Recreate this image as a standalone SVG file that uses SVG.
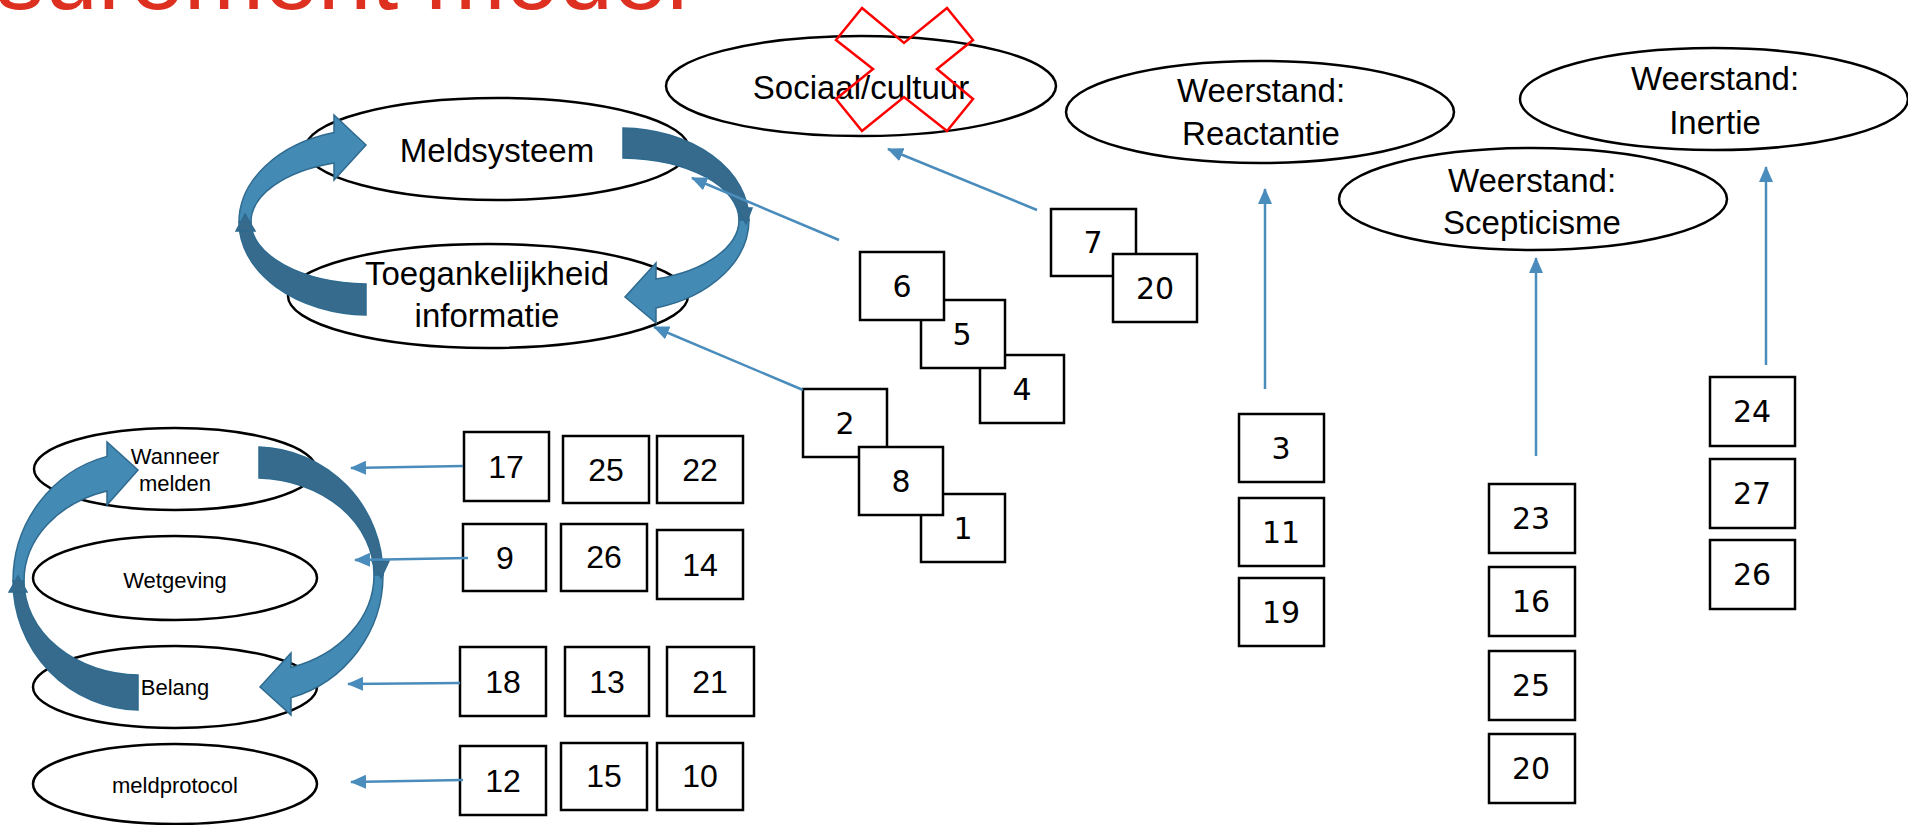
<svg xmlns="http://www.w3.org/2000/svg" width="1908" height="825" viewBox="0 0 1908 825">
  <defs>
    <style>
      .ell{fill:#fff;stroke:#000;stroke-width:2.5}
      .lbl{font-family:"Liberation Sans",Arial,sans-serif;font-size:33px;fill:#000;text-anchor:middle;dominant-baseline:central}
      .sm{font-size:22px}
      .box{fill:#fff;stroke:#000;stroke-width:2.5}
      .numA{font-family:"Liberation Sans",Arial,sans-serif;font-size:32px;fill:#000;text-anchor:middle;dominant-baseline:central}
      .numB{font-family:"DejaVu Sans",Verdana,sans-serif;font-size:30px;fill:#000;text-anchor:middle;dominant-baseline:central}
      .con{stroke:#4A8CBB;stroke-width:2.5;fill:none;marker-end:url(#ah)}
      .lt{fill:#438AB5;stroke:#2F6A8F;stroke-width:1.5}
      .dk{fill:#366B8D;stroke:#2F6A8F;stroke-width:1.5}
      .title{font-family:"Liberation Sans",Arial,sans-serif;font-size:96px;fill:#DD3020}
    </style>
    <marker id="ah" markerWidth="16" markerHeight="14" refX="15" refY="7" orient="auto" markerUnits="userSpaceOnUse">
      <path d="M0,0 L16,7 L0,14 Z" fill="#4A8CBB"/>
    </marker>
  </defs>

  <rect width="1908" height="825" fill="#fff"/>

  <!-- slide title, cropped at the top edge -->
  <text class="title" x="-4" y="9" textLength="692" lengthAdjust="spacingAndGlyphs">surement model</text>

  <!-- upper cluster -->
  <g id="sociaal">
    <ellipse class="ell" cx="861" cy="86" rx="195" ry="50"/>
    <text class="lbl" x="861" y="87">Sociaal/cultuur</text>
    <polygon points="862,8 904,43 947,8 973,40 937,69 973,99 947,131 904,97 862,131 836,99 873,69 836,40" fill="none" stroke="#FF0000" stroke-width="2.5"/>
  </g>
  <g id="reactantie">
    <ellipse class="ell" cx="1260" cy="112" rx="194" ry="51"/>
    <text class="lbl" x="1261" y="90">Weerstand:</text>
    <text class="lbl" x="1261" y="133">Reactantie</text>
  </g>
  <g id="inertie">
    <ellipse class="ell" cx="1714" cy="99" rx="194" ry="51"/>
    <text class="lbl" x="1715" y="78">Weerstand:</text>
    <text class="lbl" x="1715" y="122">Inertie</text>
  </g>
  <g id="scepticisme">
    <ellipse class="ell" cx="1533" cy="199" rx="194" ry="51"/>
    <text class="lbl" x="1532" y="180">Weerstand:</text>
    <text class="lbl" x="1532" y="222">Scepticisme</text>
  </g>
  <g id="meldsysteem">
    <ellipse class="ell" cx="497" cy="149" rx="192" ry="51"/>
    <text class="lbl" x="497" y="150">Meldsysteem</text>
  </g>
  <g id="toegankelijkheid">
    <ellipse class="ell" cx="488" cy="296" rx="200" ry="52"/>
    <text class="lbl" x="487" y="273">Toegankelijkheid</text>
    <text class="lbl" x="487" y="315">informatie</text>
  </g>

  <!-- cycle arrows round the upper pair -->
  <g id="cycle-upper">
    <path class="dk" d="M239,222 A131,93 0 0 0 366,315 L366,284 A119,62 0 0 1 251,222 Z"/>
    <path class="lt" d="M239,222 A131,93 0 0 1 334,132.6 L334,115 L366,145 L334,180 L334,163 A119,62 0 0 0 251,222 Z"/>
    <path class="dk" d="M623,128 A129,92 0 0 1 749,220 L739,220 A119,62 0 0 0 623,158 Z"/>
    <path class="lt" d="M749,220 A129,92 0 0 1 656,308 L656,323 L625,297 L656,263 L656,279 A119,62 0 0 0 739,220 Z"/>
    <path class="dk" d="M236,231 L245,214 L255,231 Z"/>
    <path class="dk" d="M738,208 L752,208 L746,224 Z"/>
  </g>

  <!-- lower cluster -->
  <g id="wanneer">
    <ellipse class="ell" cx="175" cy="469" rx="141" ry="41"/>
    <text class="lbl sm" x="175" y="456">Wanneer</text>
    <text class="lbl sm" x="175" y="483">melden</text>
  </g>
  <g id="wetgeving">
    <ellipse class="ell" cx="175" cy="578" rx="142" ry="42"/>
    <text class="lbl sm" x="175" y="580">Wetgeving</text>
  </g>
  <g id="belang">
    <ellipse class="ell" cx="175" cy="687" rx="142" ry="41"/>
    <text class="lbl sm" x="175" y="687">Belang</text>
  </g>
  <g id="meldprotocol">
    <ellipse class="ell" cx="175" cy="784" rx="142" ry="40"/>
    <text class="lbl sm" x="175" y="785">meldprotocol</text>
  </g>

  <g id="cycle-lower">
    <path class="dk" d="M13,581 A127,129 0 0 0 138,710 L138,675 A116,94 0 0 1 24,581 Z"/>
    <path class="lt" d="M13,581 A127,129 0 0 1 107,456.4 L107,442 L138,470 L107,505 L107,490.9 A116,94 0 0 0 24,581 Z"/>
    <path class="dk" d="M259,447 A128,128 0 0 1 383,575 L374,575 A119,97 0 0 0 259,478 Z"/>
    <path class="lt" d="M383,575 A128,128 0 0 1 291,697.8 L291,715 L260,687 L291,653 L291,667.5 A119,97 0 0 0 374,575 Z"/>
    <path class="dk" d="M9,592 L18,576 L27,592 Z"/>
    <path class="dk" d="M372,561 L389,561 L381,578 Z"/>
  </g>

  <!-- item boxes, lower cluster -->
  <g id="b17"><rect class="box" x="464" y="432" width="85" height="69"/><text class="numA" x="506" y="467">17</text></g>
  <g id="b25a"><rect class="box" x="563" y="436" width="86" height="67"/><text class="numA" x="606" y="470">25</text></g>
  <g id="b22"><rect class="box" x="657" y="436" width="86" height="67"/><text class="numA" x="700" y="470">22</text></g>
  <g id="b9"><rect class="box" x="463" y="524" width="83" height="67"/><text class="numA" x="505" y="558">9</text></g>
  <g id="b26a"><rect class="box" x="561" y="524" width="86" height="67"/><text class="numA" x="604" y="557">26</text></g>
  <g id="b14"><rect class="box" x="657" y="530" width="86" height="69"/><text class="numA" x="700" y="565">14</text></g>
  <g id="b18"><rect class="box" x="460" y="647" width="86" height="69"/><text class="numA" x="503" y="682">18</text></g>
  <g id="b13"><rect class="box" x="565" y="647" width="84" height="69"/><text class="numA" x="607" y="682">13</text></g>
  <g id="b21"><rect class="box" x="667" y="647" width="87" height="69"/><text class="numA" x="710" y="682">21</text></g>
  <g id="b12"><rect class="box" x="460" y="746" width="86" height="69"/><text class="numA" x="503" y="781">12</text></g>
  <g id="b15"><rect class="box" x="561" y="743" width="86" height="67"/><text class="numA" x="604" y="776">15</text></g>
  <g id="b10"><rect class="box" x="657" y="743" width="86" height="67"/><text class="numA" x="700" y="776">10</text></g>

  <!-- item boxes, middle stacks (later ones drawn underneath) -->
  <g id="b4"><rect class="box" x="980" y="355" width="84" height="68"/><text class="numB" x="1022" y="389">4</text></g>
  <g id="b5"><rect class="box" x="921" y="300" width="84" height="68"/><text class="numB" x="962" y="334">5</text></g>
  <g id="b6"><rect class="box" x="860" y="252" width="84" height="68"/><text class="numB" x="902" y="286">6</text></g>
  <g id="b7"><rect class="box" x="1051" y="209" width="85" height="67"/><text class="numB" x="1093" y="242">7</text></g>
  <g id="b20a"><rect class="box" x="1113" y="254" width="84" height="68"/><text class="numB" x="1155" y="288">20</text></g>
  <g id="b2"><rect class="box" x="803" y="389" width="84" height="68"/><text class="numB" x="845" y="423">2</text></g>
  <g id="b1"><rect class="box" x="921" y="494" width="84" height="68"/><text class="numB" x="963" y="528">1</text></g>
  <g id="b8"><rect class="box" x="859" y="447" width="84" height="68"/><text class="numB" x="901" y="481">8</text></g>

  <!-- item boxes, right columns -->
  <g id="b3"><rect class="box" x="1239" y="414" width="85" height="68"/><text class="numB" x="1281" y="448">3</text></g>
  <g id="b11"><rect class="box" x="1239" y="498" width="85" height="68"/><text class="numB" x="1281" y="532">11</text></g>
  <g id="b19"><rect class="box" x="1239" y="578" width="85" height="68"/><text class="numB" x="1281" y="612">19</text></g>
  <g id="b23"><rect class="box" x="1489" y="484" width="86" height="69"/><text class="numB" x="1531" y="518">23</text></g>
  <g id="b16"><rect class="box" x="1489" y="567" width="86" height="69"/><text class="numB" x="1531" y="601">16</text></g>
  <g id="b25b"><rect class="box" x="1489" y="651" width="86" height="69"/><text class="numB" x="1531" y="685">25</text></g>
  <g id="b20b"><rect class="box" x="1489" y="734" width="86" height="69"/><text class="numB" x="1531" y="768">20</text></g>
  <g id="b24"><rect class="box" x="1710" y="377" width="85" height="69"/><text class="numB" x="1752" y="411">24</text></g>
  <g id="b27"><rect class="box" x="1710" y="459" width="85" height="69"/><text class="numB" x="1752" y="493">27</text></g>
  <g id="b26b"><rect class="box" x="1710" y="540" width="85" height="69"/><text class="numB" x="1752" y="574">26</text></g>

  <!-- connectors -->
  <g id="connectors">
    <line class="con" x1="839" y1="240" x2="692" y2="178"/>
    <line class="con" x1="1037" y1="210" x2="888" y2="149"/>
    <line class="con" x1="803" y1="390" x2="654" y2="327"/>
    <line class="con" x1="1265" y1="389" x2="1265" y2="189"/>
    <line class="con" x1="1536" y1="456" x2="1536" y2="258"/>
    <line class="con" x1="1766" y1="365" x2="1766" y2="167"/>
    <line class="con" x1="463" y1="466" x2="351" y2="468"/>
    <line class="con" x1="468" y1="558" x2="355" y2="560"/>
    <line class="con" x1="460" y1="683" x2="348" y2="684"/>
    <line class="con" x1="463" y1="780" x2="351" y2="782"/>
  </g>
</svg>
